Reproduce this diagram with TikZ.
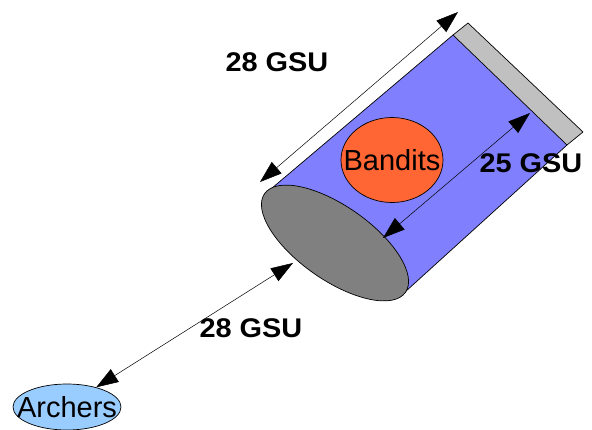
\documentclass[tikz,border=0pt]{standalone}
\usepackage{fontspec}
\setmainfont{Liberation Sans}
\usetikzlibrary{arrows.meta,shapes.geometric}
\definecolor{bodyblue}{HTML}{8080FF}
\definecolor{capgray}{HTML}{C0C0C0}
\definecolor{facegray}{HTML}{808080}
\definecolor{banditorange}{HTML}{FF6633}
\definecolor{archerblue}{HTML}{99CCFF}
\tikzset{
  outline/.style={draw=black,line width=0.7pt,line join=round},
  dim/.style={draw=black,line width=0.5pt,{Triangle[length=22pt,width=15pt]}-{Triangle[length=22pt,width=15pt]}},
  gsu/.style={font=\fontsize{27}{29}\selectfont\bfseries,inner sep=0pt,xscale=1.07},
  blob/.style={ellipse,outline,inner sep=0pt},
  blobtext/.style={font=\fontsize{29}{31}\selectfont,inner sep=0pt}
}
\begin{document}
\begin{tikzpicture}[x=1pt,y=-1pt]
\useasboundingbox (0,0) rectangle (592,429);
% cylinder body
\coordinate (fa) at (265,194);
\coordinate (fb) at (405,292);
\coordinate (ba) at (453,35);
\coordinate (bb) at (567,145);
\fill[bodyblue] (fa) -- (ba) -- (bb) -- (fb) -- cycle;
\draw[outline] (fa) -- (ba);
\draw[outline] (bb) -- (fb);
% back cap
\coordinate (ca) at (468,23);
\coordinate (cb) at (583,132);
\filldraw[fill=capgray,outline] (ba) -- (ca) -- (cb) -- (bb) -- cycle;
% front face
\filldraw[fill=facegray,outline,rotate around={-35:(335,243)}] (335,243) ellipse [x radius=86,y radius=37];
% bandits
\node[blob,fill=banditorange,minimum width=102pt,minimum height=85pt] (bandits) at (392,160) {};
\node[blobtext] (banditstext) at (bandits.center) {Bandits};
% archers
\node[blob,fill=archerblue,minimum width=108pt,minimum height=46pt] (archers) at (67,407) {};
\node[blobtext] (archerstext) at (archers.center) {Archers};
% dimension arrows
\coordinate (t1) at (260,182);
\coordinate (t2) at (458,12);
\draw[dim] (t1) -- (t2);
\coordinate (m1) at (383,238);
\coordinate (m2) at (530,113);
\draw[dim] (m1) -- (m2);
\coordinate (l1) at (293,263);
\draw[dim] (l1) -- (archers.34);
% labels
\node[gsu] (lt) at (277,62) {28 GSU};
\node[gsu] (lm) at (531,163) {25 GSU};
\node[gsu] (lb) at (251,328) {28 GSU};
\end{tikzpicture}
\end{document}
